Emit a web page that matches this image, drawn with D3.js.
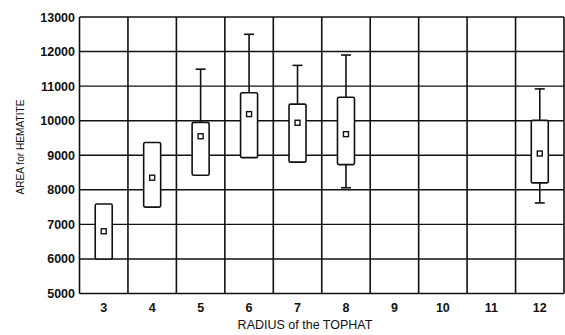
<!DOCTYPE html>
<html><head><meta charset="utf-8">
<script src="https://cdn.jsdelivr.net/npm/d3@7"></script>
<style>body{margin:0;background:#fff}svg{display:block}</style>
</head><body>
<svg id="c" width="565" height="335"></svg>
<script>
const categories = ["3","4","5","6","7","8","9","10","11","12"];
const boxLow    = [6000, 7500, 8420, 8930, 8800, 8730, null, null, null, 8200];
const boxHigh   = [7590, 9370, 9950, 10810, 10480, 10680, null, null, null, 10010];
const means     = [6800, 8350, 9550, 10190, 9940, 9610, null, null, null, 9050];
const whiskLow  = [null, null, null, null, null, 8060, null, null, null, 7620];
const whiskHigh = [null, null, 11490, 12500, 11600, 11900, null, null, null, 10920];
const yTicks = [5000,6000,7000,8000,9000,10000,11000,12000,13000];

const svg = d3.select("#c");
const L = 79.5, R = 564, T = 17, B = 293.5;
const x = d3.scaleBand().domain(categories).range([L, R]);
const y = d3.scaleLinear().domain([5000, 13000]).range([B, T]);
const font = "'Liberation Sans', Arial, sans-serif";
const stroke = "#111";

svg.append("g").selectAll("line").data(yTicks).join("line")
  .attr("x1", L).attr("x2", R).attr("y1", d => y(d)).attr("y2", d => y(d))
  .attr("stroke", stroke).attr("stroke-width", 1.4);
const bounds = categories.map(c => x(c)).concat([R]);
svg.append("g").selectAll("line").data(bounds).join("line")
  .attr("x1", d => d).attr("x2", d => d).attr("y1", T).attr("y2", B)
  .attr("stroke", stroke).attr("stroke-width", 1.6);

svg.append("g").selectAll("text").data(yTicks).join("text")
  .attr("x", 75).attr("y", d => y(d)).attr("dy", "0.36em")
  .attr("text-anchor", "end").attr("font-family", font).attr("font-weight", "bold")
  .attr("font-size", 12.5).attr("fill", "#111").text(d => d);
svg.append("g").selectAll("text").data(categories).join("text")
  .attr("x", d => x(d) + x.bandwidth()/2).attr("y", 307).attr("dy", "0.36em")
  .attr("text-anchor", "middle").attr("font-family", font).attr("font-weight", "bold")
  .attr("font-size", 12.5).attr("fill", "#111").text(d => d);

svg.append("text").attr("x", 305).attr("y", 329)
  .attr("text-anchor", "middle").attr("font-family", font).attr("font-size", 12.5)
  .attr("fill", "#111").text("RADIUS of the TOPHAT");
svg.append("text").attr("transform", "translate(24,147) rotate(-90)")
  .attr("text-anchor", "middle").attr("font-family", font).attr("font-size", 11.5)
  .attr("textLength", 95).attr("lengthAdjust", "spacingAndGlyphs")
  .attr("fill", "#111").text("AREA for HEMATITE");

const data = categories.map((c, i) => ({c, lo: boxLow[i], hi: boxHigh[i], m: means[i], wl: whiskLow[i], wh: whiskHigh[i]}))
  .filter(d => d.lo != null);
const bw = 17, cap = 10;
const g = svg.append("g");
data.forEach(d => {
  const cx = x(d.c) + x.bandwidth()/2;
  if (d.wh != null) {
    g.append("line").attr("x1", cx).attr("x2", cx).attr("y1", y(d.hi)).attr("y2", y(d.wh)).attr("stroke", stroke).attr("stroke-width", 1.6);
    g.append("line").attr("x1", cx - cap/2).attr("x2", cx + cap/2).attr("y1", y(d.wh)).attr("y2", y(d.wh)).attr("stroke", stroke).attr("stroke-width", 1.6);
  }
  if (d.wl != null) {
    g.append("line").attr("x1", cx).attr("x2", cx).attr("y1", y(d.lo)).attr("y2", y(d.wl)).attr("stroke", stroke).attr("stroke-width", 1.6);
    g.append("line").attr("x1", cx - cap/2).attr("x2", cx + cap/2).attr("y1", y(d.wl)).attr("y2", y(d.wl)).attr("stroke", stroke).attr("stroke-width", 1.6);
  }
  g.append("rect").attr("x", cx - bw/2).attr("y", y(d.hi)).attr("width", bw).attr("height", y(d.lo) - y(d.hi))
    .attr("rx", 1.5).attr("fill", "#fff").attr("stroke", stroke).attr("stroke-width", 1.6);
  g.append("rect").attr("x", cx - 2.5).attr("y", y(d.m) - 2.5).attr("width", 5).attr("height", 5)
    .attr("fill", "#fff").attr("stroke", stroke).attr("stroke-width", 1.4);
});
</script>
</body></html>
